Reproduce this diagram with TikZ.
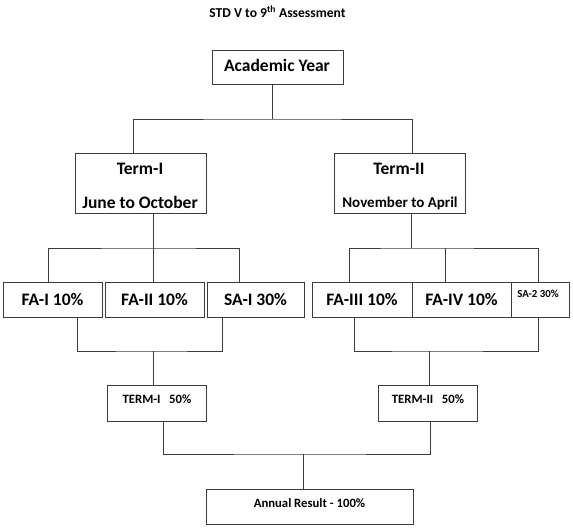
\documentclass[tikz,border=0pt]{standalone}
\usepackage{fontspec}
\setmainfont{Carlito}
\usetikzlibrary{fit}
\definecolor{ln}{RGB}{60,60,60}
\begin{document}
\begin{tikzpicture}[x=1pt,y=-1pt,
  box/.style={draw=ln,line width=0.9pt,inner sep=0pt,fit={#1}},
  conn/.style={draw=ln,line width=0.8pt},
  lbl/.style={anchor=base,inner sep=0pt,font=\bfseries\fontsize{17.5}{20}\selectfont},
  lbls/.style={anchor=base,inner sep=0pt,font=\bfseries\fontsize{15}{18}\selectfont},
  lblt/.style={anchor=base,inner sep=0pt,font=\bfseries\fontsize{12.7}{15}\selectfont},
  lblh/.style={anchor=base,inner sep=0pt,font=\bfseries\fontsize{13.6}{16}\selectfont},
  lblx/.style={anchor=base,inner sep=0pt,font=\bfseries\fontsize{10.8}{13}\selectfont}]
\useasboundingbox[fill=white] (0,0) rectangle (573,528);

% title
\node[lblh] (title) at (277.5,17.5) {STD V to 9\textsuperscript{th} Assessment};

% boxes
\node[box={(212,50) (343,84)}] (ay) {};
\node[box={(75,153) (206,213)}] (t1) {};
\node[box={(334,153) (465,213)}] (t2) {};
\node[box={(3,282) (102,317)}] (fa1) {};
\node[box={(105,282) (204,317)}] (fa2) {};
\node[box={(207,282) (304,317)}] (sa1) {};
\node[box={(312,282) (412,317)}] (fa3) {};
\node[box={(412,282) (511,317)}] (fa4) {};
\node[box={(511,282) (569,317)}] (sa2) {};
\node[box={(107,385) (206,421)}] (tm1) {};
\node[box={(378,385) (477,421)}] (tm2) {};
\node[box={(206,489) (413,524)}] (ar) {};

% labels
\node[lbl] (ayl) at (277,71) {Academic Year};
\node[lbl] (t1a) at (140,174) {Term-I};
\node[lbl] (t1b) at (140,208) {June to October};
\node[lbl] (t2a) at (399,174) {Term-II};
\node[lbls] (t2b) at (400,207) {November to April};
\node[lbl] (fa1l) at (52.5,305) {FA-I 10\%};
\node[lbl] (fa2l) at (154.5,305) {FA-II 10\%};
\node[lbl] (sa1l) at (255.5,305) {SA-I 30\%};
\node[lbl] (fa3l) at (362,305) {FA-III 10\%};
\node[lbl] (fa4l) at (461.5,305) {FA-IV 10\%};
\node[lblx] (sa2l) at (538,297) {SA-2 30\%};
\node[lblt] (tm1l) at (157,403) {TERM-I\ \ \ 50\%};
\node[lblt] (tm2l) at (428,403) {TERM-II\ \ \ 50\%};
\node[lblt] (arl) at (309.5,507) {Annual Result - 100\%};

% junction coordinates
\coordinate (j0) at (272,119);
\coordinate (j1) at (153,248);
\coordinate (j2) at (411,248);
\coordinate (j3) at (153,351);
\coordinate (j4) at (429,351);
\coordinate (j5) at (303,454);

% connectors
\draw[conn] (ay.south -| j0) -- (j0);
\draw[conn] (t1.north -| 133,0) |- (j0) -| (t2.north -| 412,0);

\draw[conn] (t1.south -| j1) -- (j1);
\draw[conn] (fa1.north -| 48,0) |- (j1) -| (sa1.north -| 239,0);
\draw[conn] (j1) -- (fa2.north -| j1);

\draw[conn] (t2.south -| j2) -- (j2);
\draw[conn] (fa3.north -| 349,0) |- (j2) -| (sa2.north -| 538,0);
\draw[conn] (fa4.north -| 445,0) -- (445,248);

\draw[conn] (fa1.south -| 77,0) |- (j3) -| (sa1.south -| 222,0);
\draw[conn] (j3) -- (tm1.north -| j3);

\draw[conn] (fa3.south -| 354,0) |- (j4) -| (sa2.south -| 538,0);
\draw[conn] (j4) -- (tm2.north -| j4);

\draw[conn] (tm1.south -| 163,0) |- (j5) -| (tm2.south -| 430,0);
\draw[conn] (j5) -- (ar.north -| j5);
\end{tikzpicture}
\end{document}
